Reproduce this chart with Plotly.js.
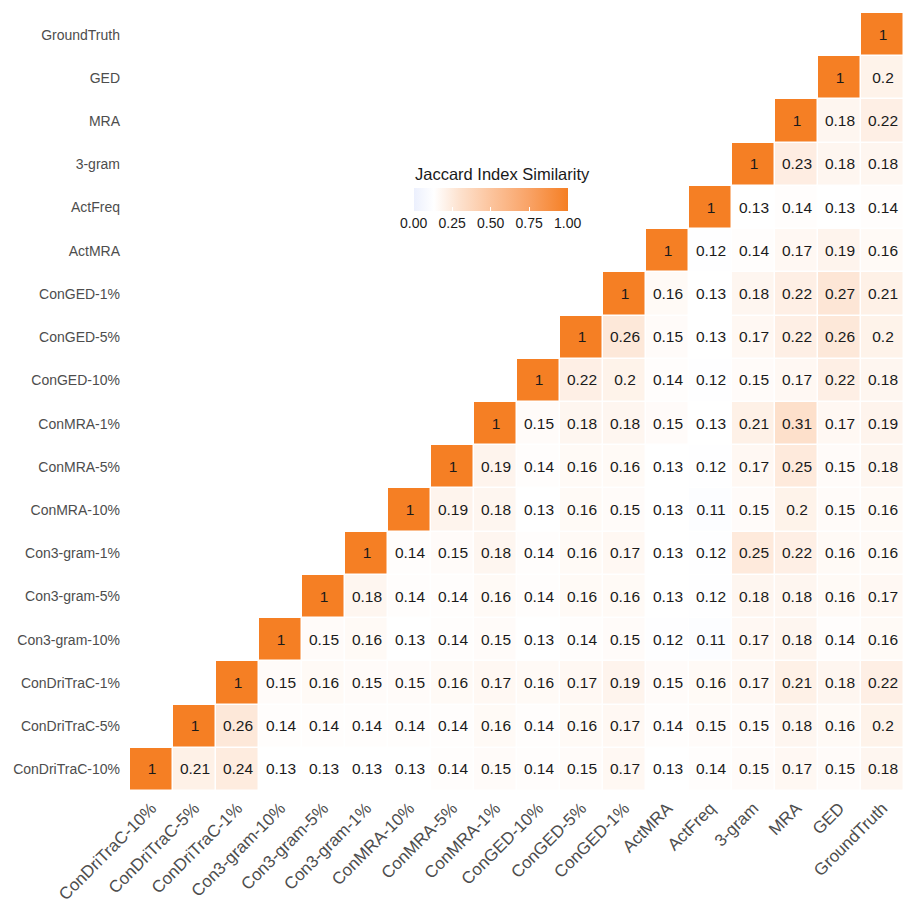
<!DOCTYPE html>
<html>
<head>
<meta charset="utf-8">
<script src="https://cdn.plot.ly/plotly-3.0.1.min.js"></script>
<style>html,body{margin:0;padding:0;background:#fff;}#chart{width:904px;height:909px;}</style>
</head>
<body>
<div id="chart"></div>
<script>
const methods = ["ConDriTraC-10%","ConDriTraC-5%","ConDriTraC-1%","Con3-gram-10%","Con3-gram-5%","Con3-gram-1%","ConMRA-10%","ConMRA-5%","ConMRA-1%","ConGED-10%","ConGED-5%","ConGED-1%","ActMRA","ActFreq","3-gram","MRA","GED","GroundTruth"];

// each row lists the values from the diagonal to the right (column index >= row index)
const rowConDriTraC10 = [1,0.21,0.24,0.13,0.13,0.13,0.13,0.14,0.15,0.14,0.15,0.17,0.13,0.14,0.15,0.17,0.15,0.18];
const rowConDriTraC5  = [1,0.26,0.14,0.14,0.14,0.14,0.14,0.16,0.14,0.16,0.17,0.14,0.15,0.15,0.18,0.16,0.2];
const rowConDriTraC1  = [1,0.15,0.16,0.15,0.15,0.16,0.17,0.16,0.17,0.19,0.15,0.16,0.17,0.21,0.18,0.22];
const rowCon3gram10   = [1,0.15,0.16,0.13,0.14,0.15,0.13,0.14,0.15,0.12,0.11,0.17,0.18,0.14,0.16];
const rowCon3gram5    = [1,0.18,0.14,0.14,0.16,0.14,0.16,0.16,0.13,0.12,0.18,0.18,0.16,0.17];
const rowCon3gram1    = [1,0.14,0.15,0.18,0.14,0.16,0.17,0.13,0.12,0.25,0.22,0.16,0.16];
const rowConMRA10     = [1,0.19,0.18,0.13,0.16,0.15,0.13,0.11,0.15,0.2,0.15,0.16];
const rowConMRA5      = [1,0.19,0.14,0.16,0.16,0.13,0.12,0.17,0.25,0.15,0.18];
const rowConMRA1      = [1,0.15,0.18,0.18,0.15,0.13,0.21,0.31,0.17,0.19];
const rowConGED10     = [1,0.22,0.2,0.14,0.12,0.15,0.17,0.22,0.18];
const rowConGED5      = [1,0.26,0.15,0.13,0.17,0.22,0.26,0.2];
const rowConGED1      = [1,0.16,0.13,0.18,0.22,0.27,0.21];
const rowActMRA       = [1,0.12,0.14,0.17,0.19,0.16];
const rowActFreq      = [1,0.13,0.14,0.13,0.14];
const row3gram        = [1,0.23,0.18,0.18];
const rowMRA          = [1,0.18,0.22];
const rowGED          = [1,0.2];
const rowGroundTruth  = [1];

const colorbarTitle = 'Jaccard Index Similarity';
const colorbarTicks = [0, 0.25, 0.5, 0.75, 1];
const colorbarTickText = ['0.00','0.25','0.50','0.75','1.00'];

const rows = [rowConDriTraC10,rowConDriTraC5,rowConDriTraC1,rowCon3gram10,rowCon3gram5,rowCon3gram1,rowConMRA10,rowConMRA5,rowConMRA1,rowConGED10,rowConGED5,rowConGED1,rowActMRA,rowActFreq,row3gram,rowMRA,rowGED,rowGroundTruth];

const n = methods.length;
const z = rows.map((r, i) => {
  const full = new Array(n).fill(null);
  r.forEach((v, k) => { full[i + k] = v; });
  return full;
});

const FONT = 'Liberation Sans, Arial, sans-serif';

const trace = {
  type: 'heatmap',
  x: methods,
  y: methods,
  z: z,
  zmin: 0, zmax: 1,
  xgap: 1.5, ygap: 1.5,
  hoverongaps: false,
  colorscale: [
    [0, '#ecf0fd'],
    [0.13, '#ffffff'],
    [0.3, '#fde1cd'],
    [0.5, '#fcc49d'],
    [0.75, '#f9a265'],
    [1, '#f57f24']
  ],
  texttemplate: '%{z}',
  textfont: {family: FONT, size: 15.5, color: '#1a1a1a'},
  colorbar: {
    orientation: 'h',
    x: 0.466, xanchor: 'center',
    y: 0.775, yanchor: 'top',
    ypad: 0,
    len: 0.225, lenmode: 'fraction',
    thickness: 23,
    outlinewidth: 0,
    tickvals: colorbarTicks,
    ticktext: colorbarTickText,
    ticks: 'inside', ticklen: 4, tickcolor: '#ffffff', tickwidth: 1,
    tickfont: {family: FONT, size: 14, color: '#1a1a1a'}
  }
};

const layout = {
  width: 904, height: 909,
  margin: {l: 130, r: 0, t: 13, b: 118},
  paper_bgcolor: '#ffffff',
  plot_bgcolor: '#ffffff',
  xaxis: {
    type: 'category',
    tickangle: -45,
    showgrid: false, zeroline: false, showline: false,
    ticks: '',
    ticklabelstandoff: 3,
    tickfont: {family: FONT, size: 17, color: '#4d4d4d'}
  },
  yaxis: {
    type: 'category',
    showgrid: false, zeroline: false, showline: false,
    ticks: '',
    ticklabelstandoff: 9,
    tickfont: {family: FONT, size: 14, color: '#4d4d4d'}
  },
  annotations: [{
    text: colorbarTitle,
    xref: 'paper', yref: 'paper',
    x: 0.3656, y: 0.793,
    xanchor: 'left', yanchor: 'middle',
    showarrow: false,
    font: {family: FONT, size: 16.5, color: '#1a1a1a'}
  }],
  font: {family: FONT}
};

Plotly.newPlot('chart', [trace], layout, {displayModeBar: false, staticPlot: true});
</script>
</body>
</html>
